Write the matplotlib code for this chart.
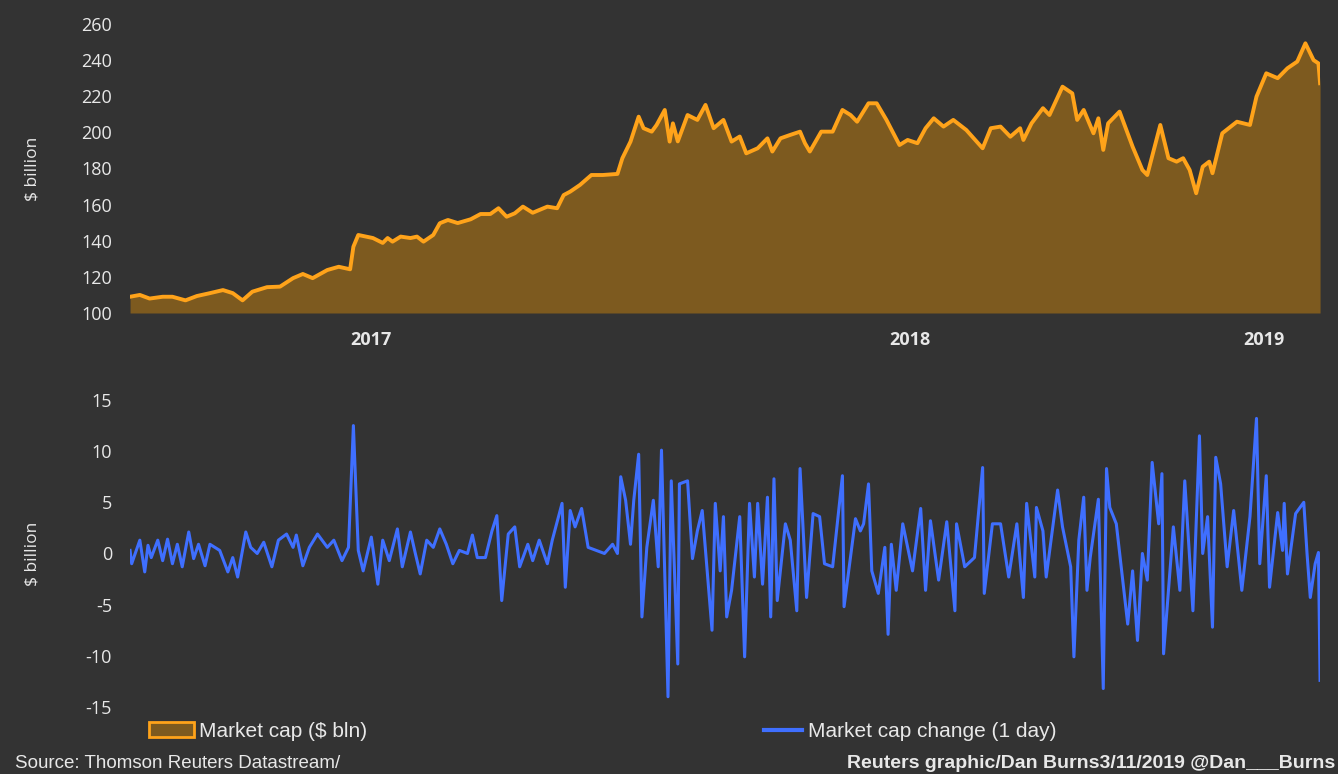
import pandas as pd
import matplotlib
matplotlib.use('Agg')
from matplotlib import pyplot as plt
from matplotlib.patches import Patch
from matplotlib.lines import Line2D

start_date = '2017-03-11'

# market cap, $ billion (days after start_date)
cap_days = [0, 6, 12, 20, 26, 34, 41, 49, 57, 63, 69, 75, 84, 92, 100, 106, 112, 121, 128, 135,
            137, 140, 149, 155, 158, 161, 166, 172, 176, 180, 186, 190, 195, 201, 209, 215, 221, 226,
            231, 236, 241, 247, 256, 262, 266, 270, 276, 283, 290, 299, 302, 307, 312, 315, 320, 323,
            328, 331, 333, 336, 342, 348, 353, 358, 364, 369, 374, 378, 385, 391, 394, 399, 405, 411,
            414, 417, 424, 431, 437, 442, 446, 453, 458, 464, 472, 477, 483, 488, 493, 499, 505, 513,
            523, 528, 534, 540, 546, 548, 553, 560, 564, 572, 578, 581, 585, 591, 594, 597, 600, 607,
            615, 621, 624, 632, 637, 642, 646, 650, 654, 658, 662, 664, 670, 679, 687, 691, 697, 704,
            710, 716, 721, 726, 729, 730]
cap_values = [109, 110, 108, 109, 109, 107, 109.4, 111, 112.7, 111, 107, 111.8, 114.3, 114.6, 119.3,
              121.6, 119.3, 123.8, 125.6, 124.2, 136.7, 143.2, 141.5, 138.8, 141.5, 139.5, 142.3, 141.5,
              142.3, 139.5, 143.2, 149.7, 151.5, 149.8, 151.9, 154.8, 154.8, 158, 153.3, 155.2, 158.9,
              155.5, 158.9, 158, 165.3, 167.2, 170.9, 176.4, 176.4, 177, 185.7, 194.9, 208.7, 202.3,
              200.4, 204.1, 212.4, 194.9, 205, 195, 209.6, 206.9, 215.2, 202.3, 206.9, 194.9, 197.7,
              188.4, 191.2, 196.7, 189.4, 196.7, 198.6, 200.4, 194, 189.4, 200.4, 200.4, 212.4, 209.6,
              205.9, 216.1, 216.1, 206.9, 193, 195.8, 194, 202.3, 207.8, 203.2, 206.9, 201.3, 191.2,
              202.3, 203.2, 197.6, 202.3, 195.8, 205, 213.4, 209.6, 225.3, 221.6, 206.9, 212.4, 199.5,
              207.8, 190.3, 205, 211.5, 192.1, 179.2, 176.4, 204.1, 185.7, 183.8, 185.7, 179.2, 166.3,
              181, 183.8, 177.4, 199.5, 205.9, 204.1, 219.8, 232.7, 230, 235.5, 239.2, 249.3, 240,
              238.2, 227.2]

# one-day change in market cap, $ billion
chg_days = [0, 1, 6, 9, 11, 13, 17, 20, 23, 26, 29, 32, 36, 39, 42, 46, 49, 55, 60, 63, 66, 71, 74,
            78, 82, 87, 91, 96, 100, 102, 106, 110, 115, 121, 125, 130, 134, 137, 140, 143, 148, 152,
            155, 159, 164, 167, 172, 175, 178, 182, 186, 190, 194, 198, 202, 207, 210, 213, 218, 222,
            225, 228, 232, 236, 239, 244, 247, 251, 256, 259, 265, 267, 270, 273, 277, 281, 286, 291,
            296, 299, 301, 304, 307, 309, 312, 314, 317, 321, 324, 326, 330, 332, 336, 337, 342, 345,
            348, 351, 357, 359, 362, 364, 366, 369, 374, 377, 380, 383, 385, 388, 391, 393, 395, 397,
            402, 405, 409, 411, 415, 419, 423, 426, 431, 437, 438, 445, 448, 450, 453, 455, 459, 463,
            465, 467, 470, 474, 480, 485, 488, 491, 496, 501, 506, 507, 512, 518, 523, 524, 529, 534,
            539, 544, 548, 550, 555, 556, 560, 562, 569, 572, 577, 579, 582, 585, 587, 589, 594, 597,
            599, 601, 605, 612, 615, 618, 621, 624, 627, 631, 633, 634, 640, 644, 647, 652, 656, 658,
            661, 664, 666, 669, 673, 677, 682, 687, 691, 693, 697, 699, 704, 707, 708, 710, 715, 720,
            722, 724, 727, 729, 730]
chg_values = [0.3, -1, 1.3, -1.8, 0.8, -0.4, 1.3, -0.7, 1.4, -1, 0.9, -1.3, 2.1, -0.5, 0.9, -1.2, 0.9,
              0.3, -1.8, -0.4, -2.3, 2.1, 0.6, 0, 1.1, -1.3, 1.3, 1.9, 0.6, 1.8, -1.2, 0.6, 1.9, 0.6,
              1.3, -0.7, 0.6, 12.5, 0.3, -1.7, 1.6, -3, 1.3, -0.7, 2.4, -1.3, 2.1, 0, -2, 1.3, 0.6,
              2.4, 0.9, -1, 0.3, 0, 1.8, -0.4, -0.4, 2.2, 3.7, -4.6, 1.9, 2.6, -1.3, 0.9, -0.7, 1.3,
              -1, 1.3, 4.9, -3.3, 4.2, 2.6, 4.4, 0.6, 0.3, 0, 0.9, 0, 7.5, 5.2, 0.9, 5.2, 9.7, -6.2,
              0.6, 5.2, -1.3, 10.1, -14, 7.1, -10.8, 6.8, 7.1, -0.5, 2.2, 4.2, -7.5, 4.9, -1.7, 3.6,
              -6.2, -3.6, 3.6, -10.1, 4.9, -2.3, 4.9, -3, 5.5, -6.2, 7.3, -4.6, 2.9, 1.3, -5.6, 8.3,
              -4.3, 3.9, 3.6, -1, -1.3, 7.6, -5.2, 3.4, 2.2, 2.9, 6.8, -1.7, -3.9, 0.6, -7.9, 0.9,
              -3.6, 2.9, -1.7, 4.4, -3.6, 3.2, -2.6, 3.1, -5.6, 2.9, -1.3, -0.4, 8.4, -3.9, 2.9, 2.9,
              -2.3, 2.9, -4.3, 4.9, -2.3, 4.5, 2.2, -2.3, 6.2, 2.6, -1.3, -10.1, 1.3, 5.5, -3.6, -0.4,
              5.3, -13.2, 8.3, 4.5, 2.9, -6.9, -1.7, -8.5, 0, -2.6, 8.9, 2.9, 7.8, -9.8, 2.6, -3.6,
              7.1, -5.6, 11.5, 0, 3.6, -7.2, 9.4, 6.8, -1.3, 4.2, -3.6, 3.6, 13.2, -1, 7.6, -3.3, 4,
              0.3, 4.9, -2, 3.9, 5, 0, -4.3, -1, 0.1, -12.4]

year_labels = ['2017', '2018', '2019']

bg = '#333333'
fill_col = '#7d5a1f'
line_col = '#ffa31a'
blue = '#3f6fff'
txt = '#e8e8e8'

plt.rcParams['font.family'] = ['Open Sans', 'DejaVu Sans']
plt.rcParams['axes.unicode_minus'] = False

start = pd.Timestamp(start_date)
cap_dates = start + pd.to_timedelta(cap_days, unit='D')
chg_dates = start + pd.to_timedelta(chg_days, unit='D')
end = cap_dates[-1]

# year labels sit in the middle of each year's visible span
tick_pos = []
for lab in year_labels:
    y0 = max(pd.Timestamp(lab + '-01-01'), start)
    y1 = min(pd.Timestamp(str(int(lab) + 1) + '-01-01'), end)
    tick_pos.append(y0 + (y1 - y0) / 2)

fig = plt.figure(figsize=(13.38, 7.74), dpi=100, facecolor=bg)
ax1 = fig.add_axes([0.0972, 0.5956, 0.8894, 0.3734], facecolor=bg)
ax2 = fig.add_axes([0.0972, 0.0866, 0.8894, 0.3966], facecolor=bg)

ax1.fill_between(cap_dates, cap_values, 100, color=fill_col, lw=0)
ax1.plot(cap_dates, cap_values, color=line_col, lw=2.8, solid_joinstyle='round')
ax1.set_ylim(100, 260)
ax1.set_yticks(range(100, 261, 20))
ax1.set_xlim(start, end)
ax1.set_xticks(tick_pos)
ax1.set_xticklabels(year_labels, fontweight='bold')
ax1.set_ylabel('$ billion', color=txt, fontsize=12.5)
ax1.yaxis.set_label_coords(-0.075, 0.5)

ax2.plot(chg_dates, chg_values, color=blue, lw=2.2)
ax2.set_ylim(-15, 15)
ax2.set_yticks(range(-15, 16, 5))
ax2.set_xlim(start, end)
ax2.set_xticks([])
ax2.set_ylabel('$ billion', color=txt, fontsize=12.5)
ax2.yaxis.set_label_coords(-0.075, 0.5)

for ax in [ax1, ax2]:
    for s in ax.spines.values():
        s.set_visible(False)
    ax.tick_params(length=0, labelcolor=txt, labelsize=13, pad=13)

lfont = {'family': 'Liberation Sans', 'size': 15}
leg1 = fig.legend(handles=[Patch(facecolor=fill_col, edgecolor=line_col, lw=2)],
                  labels=['Market cap ($ bln)'], loc='center left',
                  bbox_to_anchor=(0.097, 0.055), frameon=False, prop=lfont,
                  labelcolor=txt, handlelength=2.2, handletextpad=0.2)
leg2 = fig.legend(handles=[Line2D([], [], color=blue, lw=3)],
                  labels=['Market cap change (1 day)'], loc='center left',
                  bbox_to_anchor=(0.557, 0.055), frameon=False, prop=lfont,
                  labelcolor=txt, handlelength=1.8, handletextpad=0.3)

fig.text(0.011, 0.002, 'Source: Thomson Reuters Datastream/', color=txt,
         fontsize=13.5, family='Liberation Sans', va='bottom')
fig.text(0.998, 0.002, 'Reuters graphic/Dan Burns3/11/2019 @Dan___Burns', color=txt,
         fontsize=14, family='Liberation Sans', fontweight='bold', va='bottom', ha='right')

fig.savefig('out.png', dpi=100, facecolor=bg)
